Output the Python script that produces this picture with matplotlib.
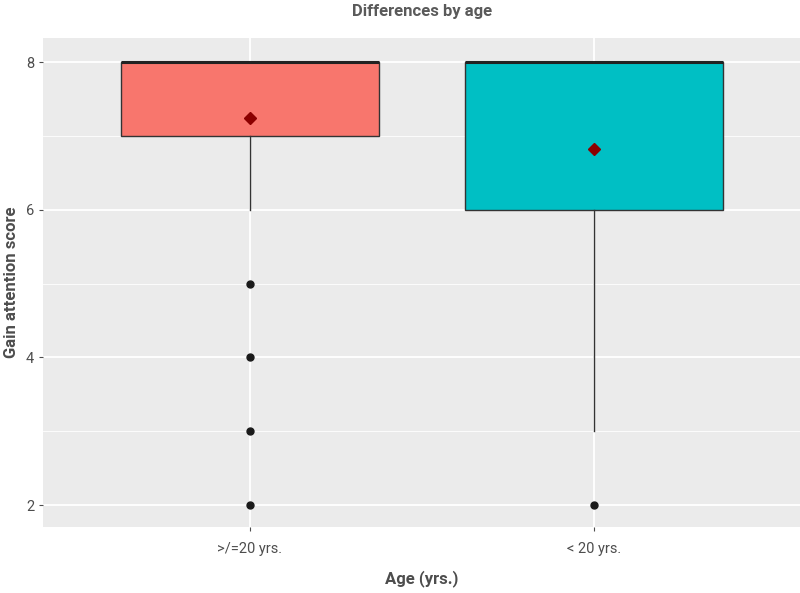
import matplotlib.pyplot as plt
from matplotlib.ticker import FixedLocator

plt.rcParams['font.family'] = ['Roboto', 'DejaVu Sans']

# data
groups = [">/=20 yrs.", "< 20 yrs."]
q1 = [7, 6]
medians = [8, 8]
q3 = [8, 8]
whisker_lo = [6, 3]
whisker_hi = [8, 8]
outliers = [[5, 4, 3, 2], [2]]
means = [7.25, 6.82]
fills = ["#F8766D", "#00BFC4"]

stats = []
for i, g in enumerate(groups):
    stats.append({
        "label": g, "q1": q1[i], "med": medians[i], "q3": q3[i],
        "whislo": whisker_lo[i], "whishi": whisker_hi[i],
        "fliers": outliers[i], "mean": means[i],
    })

fig = plt.figure(figsize=(8, 5.93), dpi=100)
ax = fig.add_axes([0.054, 0.111, 0.946, 0.825])
ax.set_facecolor("#EBEBEB")

pos = list(range(1, len(groups) + 1))
bp = ax.bxp(stats, positions=pos, widths=0.75, patch_artist=True,
            showcaps=False, showmeans=True, manage_ticks=False,
            boxprops=dict(edgecolor="#333333", linewidth=1.0),
            medianprops=dict(color="#222222", linewidth=2.2),
            whiskerprops=dict(color="#333333", linewidth=1.0),
            flierprops=dict(marker="o", markerfacecolor="#1a1a1a",
                            markeredgecolor="#1a1a1a", markersize=5),
            meanprops=dict(marker="D", markerfacecolor="#8B0000",
                           markeredgecolor="#8B0000", markersize=6.5))
for patch, c in zip(bp["boxes"], fills):
    patch.set_facecolor(c)

ax.set_xlim(0.4, 2.6)
ax.set_ylim(1.7, 8.33)
ax.set_xticks(pos)
ax.set_xticklabels(groups)
ax.set_yticks([2, 4, 6, 8])
ax.yaxis.set_minor_locator(FixedLocator([3, 5, 7]))

ax.grid(True, which="major", color="white", linewidth=1.3)
ax.grid(True, which="minor", axis="y", color="white", linewidth=0.6)
ax.set_axisbelow(True)
for s in ax.spines.values():
    s.set_visible(False)

ax.tick_params(axis="both", which="major", colors="#4d4d4d", labelsize=10.5,
               length=3, width=0.8, labelcolor="#4d4d4d")
ax.tick_params(axis="x", which="major", pad=8)
ax.tick_params(axis="y", which="minor", length=0)

ax.set_title("Differences by age", color="#5a5a5a", fontsize=12,
             fontweight="bold", pad=16)
ax.set_xlabel("Age (yrs.)", color="#4d4d4d", fontsize=12, fontweight="bold",
              labelpad=10)
ax.set_ylabel("Gain attention score", color="#4d4d4d", fontsize=12,
              fontweight="bold", labelpad=5)

fig.savefig("out.png", dpi=100)
